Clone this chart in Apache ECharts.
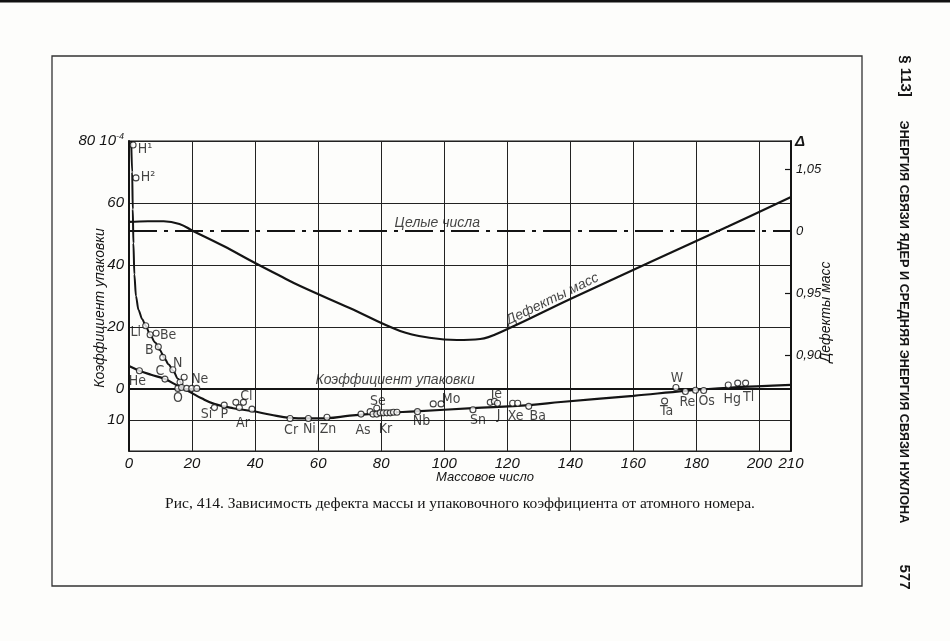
<!DOCTYPE html>
<html lang="ru">
<head>
<meta charset="utf-8">
<title>Рис. 414</title>
<script src="https://cdn.jsdelivr.net/npm/echarts@6.0.0/dist/echarts.min.js"></script>
<style>
  html, body { margin: 0; padding: 0; background: #fdfdfb; }
  #chart { width: 950px; height: 641px; }
</style>
</head>
<body>
<div id="chart"></div>
<script>
// Коэффициент упаковки (10^-4), основная ветвь
const packA = [0, 3.3, 7, 11.4, 15.5, 19.4, 23, 27, 33, 39, 45, 51, 57, 63, 70, 80, 91, 109, 127, 137, 160, 176.5, 190, 210]
const packK = [7.4, 5.9, 4.6, 3.2, 1.0, -1.0, -3.0, -4.8, -6.2, -7.1, -8.3, -9.3, -9.5, -9.4, -8.6, -7.8, -7.2, -6.2, -5.2, -4.2, -2.2, -0.6, 0.4, 1.3]

// ветвь лёгких ядер (от H¹ к O)
const lightA = [0.7, 1.0, 1.2, 1.4, 1.7, 2.2, 3.0, 4.2, 5.3, 6.7, 8.3, 9.8, 11.2, 12.6, 14.0, 15.5, 17.0]
const lightK = [80, 70, 58, 47, 37, 30, 25.5, 22.5, 20.4, 17.5, 15.0, 12.6, 10.0, 7.9, 5.9, 3.3, 0.6]

// Дефекты масс (правая шкала)
const defA = [0, 6, 11, 16, 20.3, 30, 39.4, 48, 54.3, 70, 86, 96, 104, 111.4, 118.7, 140, 165.4, 190, 210]
const defD = [1.0072, 1.0078, 1.0078, 1.0056, 1.0000, 0.9878, 0.9749, 0.9636, 0.9556, 0.9378, 0.9193, 0.9136, 0.9120, 0.9128, 0.9193, 0.9451, 0.9749, 1.0035, 1.0273]

// Целые числа
const wholeA = [0, 210]
const wholeD = [1.0, 1.0]

// точки элементов
const elemNames = ['H¹', 'H²', 'Li', '', 'Be', 'B', '', 'N', 'C', 'He', '', '', 'O', '', '', '', 'Ne',
  'Si', 'P', '', '', 'Cl', 'Ar', 'Cr', 'Ni', 'Zn', 'As', '', '', 'Se', '', '', 'Kr', '', '', '', '',
  'Nb', '', 'Mo', 'Sn', '', 'Te', 'J', 'Xe', '', 'Ba', 'Ta', 'W', 'Re', '', 'Os', 'Hg', '', 'Tl']
const elemA = [1.3, 2.2, 5.3, 6.7, 8.6, 9.3, 10.7, 13.9, 11.4, 3.3, 16.2, 17.5, 15.5, 16.7, 18.3, 19.9, 21.5,
  27.1, 30.2, 33.9, 35.0, 36.3, 39.0, 51.1, 56.9, 62.8, 73.6, 76.5, 77.4, 78.6, 78.6, 79.7, 80.7, 81.8, 82.9, 83.9, 85.0,
  91.5, 96.5, 99.0, 109.1, 114.6, 115.9, 116.9, 121.7, 123.3, 126.8, 169.9, 173.5, 176.5, 179.7, 182.3, 190.1, 193.1, 195.6]
const elemK = [78.7, 68.1, 20.4, 17.5, 18.0, 13.6, 10.2, 6.2, 3.2, 5.9, 2.2, 3.8, 0.2, 0.5, 0.2, 0.2, 0.2,
  -6.0, -5.2, -4.3, -6.0, -4.3, -6.5, -9.5, -9.5, -9.1, -8.1, -7.3, -8.1, -6.2, -8.1, -7.7, -7.7, -7.7, -7.7, -7.5, -7.5,
  -7.3, -4.8, -4.8, -6.7, -4.3, -4.0, -4.6, -4.6, -4.6, -5.6, -3.9, 0.5, -0.8, -0.4, -0.5, 1.3, 1.9, 1.9]

// подписи на кривых
const noteText = ['Целые числа', 'Дефекты масс', 'Коэффициент упаковки']
const noteA = [97.8, 134.3, 84.4]
const noteK = [53.5, 29.0, 2.9]

// смещения подписей элементов от кружков (px)
const labelShift = {
  'H¹': [12, 4], 'H²': [12, -1], 'Li': [-10, 7], 'Be': [12, 2], 'B': [-9, 4], 'N': [5, -6], 'C': [-5, -8],
  'He': [-2, 11], 'O': [0, 10], 'Ne': [3, -9], 'Si': [-8, 7], 'P': [0, 9], 'Cl': [3, -6], 'Ar': [-9, 14],
  'Cr': [1, 12], 'Ni': [1, 11], 'Zn': [1, 12], 'As': [2, 16], 'Se': [1, -7], 'Kr': [2, 16], 'Nb': [4, 10],
  'Mo': [10, -5], 'Sn': [5, 11], 'Te': [1, -7], 'J': [1, 12], 'Xe': [3, 13], 'Ba': [9, 10], 'Ta': [2, 10],
  'W': [1, -9], 'Re': [2, 11], 'Os': [3, 11], 'Hg': [4, 14], 'Tl': [3, 14]
}
const noteTilt = [0, 26, 0]

const ink = '#141414'
const sans = "'Liberation Sans', 'DejaVu Sans', sans-serif"
const narrow = "'Liberation Sans Narrow', 'DejaVu Sans Condensed', 'Liberation Sans', sans-serif"
const serif = "'Liberation Serif', 'DejaVu Serif', serif"

const rightLabels = { '1.05': '1,05', '1.00': '0', '0.95': '0,95', '0.90': '0,90' }

const zip = (a, b) => a.map((v, i) => [v, b[i]])

const chart = echarts.init(document.getElementById('chart'), null, { renderer: 'canvas' })

chart.setOption({
  backgroundColor: '#fdfdfb',
  animation: false,
  grid: {
    left: 129, right: 159, top: 141, bottom: 190,
    show: true, borderColor: ink, borderWidth: 1.2, backgroundColor: 'transparent'
  },
  xAxis: {
    type: 'value', min: 0, max: 210, interval: 20,
    axisLine: { show: true, lineStyle: { color: ink, width: 2 } },
    axisTick: { show: false },
    axisLabel: { color: ink, fontSize: 15, fontStyle: 'italic', fontFamily: sans, margin: 5, showMaxLabel: true },
    splitLine: { show: true, lineStyle: { color: '#222', width: 1 } }
  },
  yAxis: [
    {
      type: 'value', min: -20, max: 80,
      axisLine: { show: true, lineStyle: { color: ink, width: 2 } },
      axisTick: { show: false, customValues: [-20, -10, 0, 20, 40, 60, 80] },
      axisLabel: {
        customValues: [-10, 0, 20, 40, 60, 80],
        color: ink, fontSize: 15, fontStyle: 'italic', fontFamily: sans, margin: 5,
        formatter: v => v === 80 ? '{n|80 10}{s|-4}' : String(Math.abs(v)),
        rich: {
          n: { fontSize: 15, fontStyle: 'italic', fontFamily: sans, color: ink },
          s: { fontSize: 9, fontStyle: 'italic', fontFamily: sans, color: ink, padding: [0, 0, 9, 0] }
        }
      },
      splitLine: { show: true, lineStyle: { color: '#222', width: 1 } }
    },
    {
      type: 'value', min: 0.8225, max: 1.0725, position: 'right',
      axisLine: { show: true, lineStyle: { color: ink, width: 2 } },
      axisTick: { show: true, inside: true, length: 6, customValues: [0.90, 0.95, 1.05], lineStyle: { color: ink, width: 1.2 } },
      axisLabel: {
        customValues: [0.90, 0.95, 1.00, 1.05],
        color: ink, fontSize: 13, fontStyle: 'italic', fontFamily: sans, margin: 5,
        formatter: v => rightLabels[v.toFixed(2)] || ''
      },
      splitLine: { show: false }
    }
  ],
  series: [
    {
      name: 'Целые числа', type: 'line', yAxisIndex: 1, data: zip(wholeA, wholeD),
      symbol: 'none', lineStyle: { color: ink, width: 2, type: [28, 7, 4, 7] }, z: 2
    },
    {
      name: 'Дефекты масс', type: 'line', yAxisIndex: 1, data: zip(defA, defD),
      symbol: 'none', smooth: 0.4, lineStyle: { color: ink, width: 2.2 }, z: 3
    },
    {
      name: 'Коэффициент упаковки', type: 'line', data: zip(packA, packK),
      symbol: 'none', smooth: 0.4, lineStyle: { color: ink, width: 2.2 }, z: 3
    },
    {
      name: 'лёгкие ядра', type: 'line', data: zip(lightA, lightK),
      symbol: 'none', smooth: 0.3, smoothMonotone: 'x', lineStyle: { color: ink, width: 2 }, z: 3
    },
    {
      name: 'элементы', type: 'scatter', z: 5,
      symbol: 'circle', symbolSize: 6,
      itemStyle: { color: '#fff', borderColor: ink, borderWidth: 1.1 },
      label: { position: 'inside', color: ink, fontSize: 14, fontFamily: narrow, formatter: p => p.name },
      data: elemNames.map((n, i) => ({
        name: n,
        value: [elemA[i], elemK[i]],
        label: n ? { show: true, offset: labelShift[n] } : { show: false }
      }))
    },
    {
      name: 'подписи', type: 'scatter', z: 6, symbolSize: 0, silent: true,
      label: { show: true, position: 'inside', color: ink, fontSize: 14, fontStyle: 'italic', fontFamily: sans, formatter: p => p.name },
      data: noteText.map((t, i) => ({
        name: t,
        value: [noteA[i], noteK[i]],
        label: { rotate: noteTilt[i] }
      }))
    }
  ],
  graphic: [
    { type: 'rect', shape: { x: 0, y: 0, width: 950, height: 2.5 }, style: { fill: '#111' } },
    { type: 'rect', shape: { x: 52, y: 56, width: 810, height: 530 }, style: { fill: 'none', stroke: '#333', lineWidth: 1.3 } },
    {
      type: 'text', x: 100, y: 308, rotation: Math.PI / 2,
      style: { text: 'Коэффициент упаковки', fill: ink, font: 'italic 14px ' + sans, align: 'center', verticalAlign: 'middle' }
    },
    {
      type: 'text', x: 826, y: 312, rotation: Math.PI / 2,
      style: { text: 'Дефекты масс', fill: ink, font: 'italic 14px ' + sans, align: 'center', verticalAlign: 'middle' }
    },
    {
      type: 'text', x: 800, y: 142,
      style: { text: 'Δ', fill: ink, font: 'italic bold 15px ' + sans, align: 'center', verticalAlign: 'middle' }
    },
    {
      type: 'text', x: 485, y: 477,
      style: { text: 'Массовое число', fill: ink, font: 'italic 13px ' + sans, align: 'center', verticalAlign: 'middle' }
    },
    {
      type: 'text', x: 460, y: 504,
      style: { text: 'Рис, 414. Зависимость дефекта массы и упаковочного коэффициента от атомного номера.', fill: ink, font: '15.5px ' + serif, align: 'center', verticalAlign: 'middle' }
    },
    {
      type: 'text', x: 905, y: 76, rotation: -Math.PI / 2,
      style: { text: '§ 113]', fill: ink, font: 'bold 15px ' + sans, align: 'center', verticalAlign: 'middle' }
    },
    {
      type: 'text', x: 904, y: 322, rotation: -Math.PI / 2,
      style: { text: 'ЭНЕРГИЯ СВЯЗИ ЯДЕР И СРЕДНЯЯ ЭНЕРГИЯ СВЯЗИ НУКЛОНА', fill: ink, font: 'bold 12.7px ' + sans, align: 'center', verticalAlign: 'middle' }
    },
    {
      type: 'text', x: 904, y: 577, rotation: -Math.PI / 2,
      style: { text: '577', fill: ink, font: 'bold 15px ' + sans, align: 'center', verticalAlign: 'middle' }
    }
  ]
})
</script>
</body>
</html>
